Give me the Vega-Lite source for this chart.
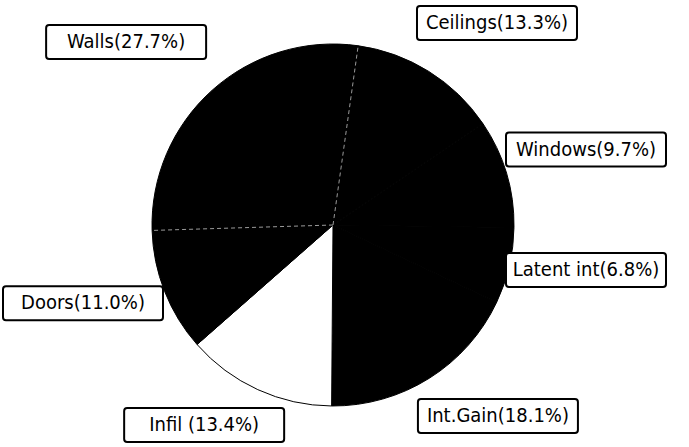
{
  "$schema": "https://vega.github.io/schema/vega-lite/v6.json",
  "width": 666,
  "height": 444,
  "autosize": "none",
  "padding": {"left": 0, "top": 3, "right": 23, "bottom": 0},
  "background": "white",
  "view": {"stroke": null},
  "data": {
    "values": [
      {"label": "Ceilings(13.3%)", "value": 13.3, "order": 1},
      {"label": "Windows(9.7%)", "value": 9.7, "order": 2},
      {"label": "Latent int(6.8%)", "value": 6.8, "order": 3},
      {"label": "Int.Gain(18.1%)", "value": 18.1, "order": 4},
      {"label": "Infil (13.4%)", "value": 13.4, "order": 5},
      {"label": "Doors(11.0%)", "value": 11.0, "order": 6},
      {"label": "Walls(27.7%)", "value": 27.7, "order": 7}
    ]
  },
  "transform": [
    {"stack": "value", "groupby": [], "sort": [{"field": "order", "order": "ascending"}], "as": ["v0", "v1"]},
    {"calculate": "0.1396 + 2 * PI * (datum.v0 + datum.v1) / 200", "as": "mid"},
    {"calculate": "0.1396 + 2 * PI * datum.v1 / 100", "as": "edge"},
    {"calculate": "clamp(310 * sin(datum.mid), -250, 253)", "as": "cx"},
    {"calculate": "clamp(235 * cos(datum.mid) + 8, -200, 202)", "as": "cy"},
    {"calculate": "datum.cx - 80", "as": "bx0"},
    {"calculate": "datum.cx + 80", "as": "bx1"},
    {"calculate": "datum.cy - 17", "as": "by0"},
    {"calculate": "datum.cy + 17", "as": "by1"},
    {"calculate": "181 * sin(datum.edge)", "as": "ex"},
    {"calculate": "181 * cos(datum.edge)", "as": "ey"},
    {"calculate": "0", "as": "zero"}
  ],
  "layer": [
    {
      "mark": {"type": "arc", "outerRadius": 181, "stroke": "black", "strokeWidth": 1},
      "encoding": {
        "theta": {"field": "v0", "type": "quantitative", "scale": {"domain": [0, 100], "range": [0.1396, 6.4228]}},
        "theta2": {"field": "v1"},
        "fill": {"field": "order", "type": "nominal", "scale": {"domain": [1, 2, 3, 4, 5, 6, 7], "range": ["black", "black", "black", "black", "white", "black", "black"]}, "legend": null}
      }
    },
    {
      "transform": [{"filter": "datum.order === 6 || datum.order === 7"}],
      "mark": {"type": "rule", "stroke": "#9a9a9a", "strokeWidth": 1, "strokeDash": [4, 3]},
      "encoding": {
        "x": {"field": "zero", "type": "quantitative", "scale": {"domain": [-333, 333]}, "axis": null},
        "y": {"field": "zero", "type": "quantitative", "scale": {"domain": [-222, 222]}, "axis": null},
        "x2": {"field": "ex"},
        "y2": {"field": "ey"}
      }
    },
    {
      "mark": {"type": "rect", "fill": "white", "stroke": "black", "strokeWidth": 2, "cornerRadius": 3},
      "encoding": {
        "x": {"field": "bx0", "type": "quantitative", "scale": {"domain": [-333, 333]}, "axis": null},
        "x2": {"field": "bx1"},
        "y": {"field": "by0", "type": "quantitative", "scale": {"domain": [-222, 222]}, "axis": null},
        "y2": {"field": "by1"}
      }
    },
    {
      "mark": {"type": "text", "font": "DejaVu Sans Condensed, Liberation Sans", "fontSize": 20, "align": "center", "baseline": "middle", "fill": "black"},
      "encoding": {
        "x": {"field": "cx", "type": "quantitative", "scale": {"domain": [-333, 333]}, "axis": null},
        "y": {"field": "cy", "type": "quantitative", "scale": {"domain": [-222, 222]}, "axis": null},
        "text": {"field": "label"}
      }
    }
  ]
}
